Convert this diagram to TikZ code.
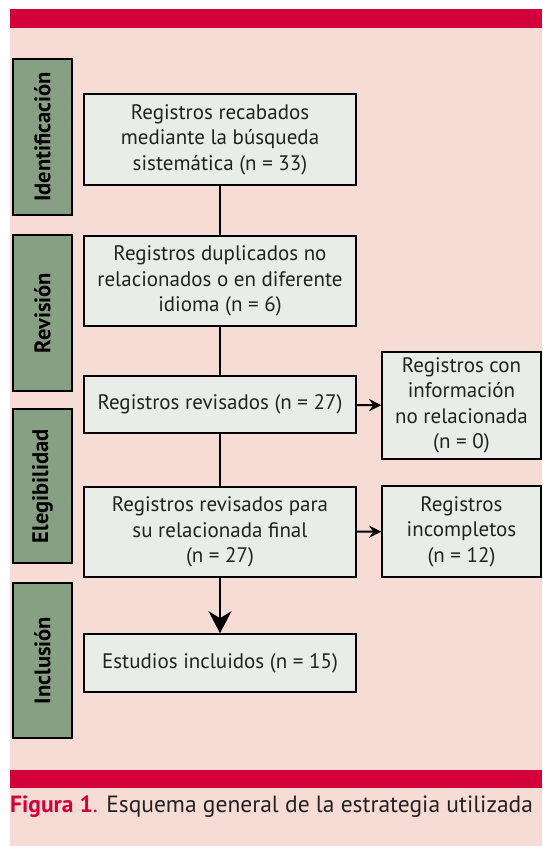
\documentclass[tikz,border=0pt]{standalone}
\usepackage{fontspec}
\setmainfont{PT Sans}
\usetikzlibrary{arrows.meta}
\definecolor{fondo}{HTML}{F7DBD5}
\definecolor{rojo}{HTML}{D30039}
\definecolor{verde}{HTML}{87A083}
\definecolor{caja}{HTML}{E8EDE8}
\definecolor{texto}{HTML}{222222}
\begin{document}
\begin{tikzpicture}[x=1pt,y=-1pt]
\tikzstyle{etapa}=[draw,line width=1.6pt,fill=verde,rotate=90,minimum height=59pt,inner sep=0pt,font=\bfseries\fontsize{22.5}{26}\selectfont]
\tikzstyle{paso}=[draw,line width=1.6pt,fill=caja,text=texto,align=center,inner sep=0pt,font=\fontsize{21}{25.5}\selectfont]
\tikzstyle{linea}=[line width=2pt]
\useasboundingbox (0,0) rectangle (542,846);
\fill[fondo] (10,9) rectangle (542,846);
\fill[rojo] (10,9) rectangle (542,28);
\fill[rojo] (10,770) rectangle (542,788);
% etapas
\node[etapa,minimum width=156pt] (ident) at (42.5,137) {Identificación};
\node[etapa,minimum width=156pt] (rev) at (42.5,313) {Revisión};
\node[etapa,minimum width=154pt] (eleg) at (42.5,486) {Elegibilidad};
\node[etapa,minimum width=155pt] (incl) at (42.5,660.5) {Inclusión};
% flujo
\node[paso,minimum width=272pt,minimum height=91pt] (b1) at (220,139.5) {Registros recabados\\mediante la búsqueda\\sistemática (n = 33)};
\node[paso,minimum width=272pt,minimum height=90pt] (b2) at (220,281) {Registros duplicados no\\relacionados o en diferente\\idioma (n = 6)};
\node[paso,minimum width=272pt,minimum height=57pt] (b3) at (220,404.5) {Registros revisados (n = 27)};
\node[paso,minimum width=272pt,minimum height=90pt] (b4) at (220,532) {Registros revisados para\\su relacionada final\\(n = 27)};
\node[paso,minimum width=272pt,minimum height=58pt] (b5) at (220,663) {Estudios incluidos (n = 15)};
\node[paso,minimum width=159pt,minimum height=107pt] (noRel) at (461.5,405.5) {Registros con\\información\\no relacionada\\(n = 0)};
\node[paso,minimum width=159pt,minimum height=91pt] (incomp) at (461.5,531.5) {Registros\\incompletos\\(n = 12)};
\draw[linea] (b1) -- (b2)
(b2) -- (b3)
(b3) -- (b4);
\draw[linea,-{Stealth[length=22pt,width=23pt,inset=7pt]}] (b4) -- (b5);
\draw[linea,-{Stealth[length=12pt,width=12pt,inset=4pt]}] (b3) -- (noRel);
\draw[linea,-{Stealth[length=12pt,width=12pt,inset=4pt]}] (b4) -- (incomp);
% pie
\node[anchor=west,inner sep=0pt,text=texto,font=\fontsize{23.5}{28}\selectfont] (pie) at (10,807) {{\color{rojo}\bfseries Figura 1}{\color{rojo}.} Esquema general de la estrategia utilizada};
\end{tikzpicture}
\end{document}
